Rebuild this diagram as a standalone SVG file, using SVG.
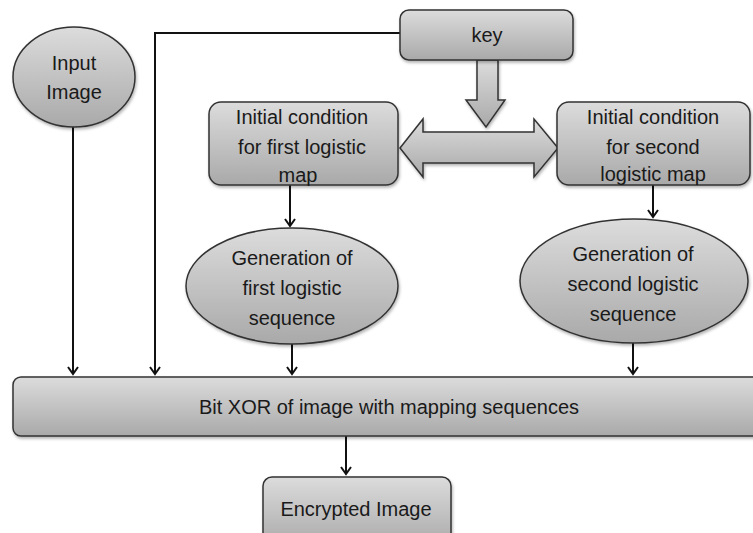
<svg xmlns="http://www.w3.org/2000/svg" width="753" height="533" viewBox="0 0 753 533">
<style>
.node{fill:url(#g);stroke:#333;stroke-width:1.5;filter:url(#sh)}
.t{font-family:"Liberation Sans",Arial,sans-serif;font-size:20px;fill:#1a1a1a;text-anchor:middle}
.c{fill:none;stroke:#111;stroke-width:2}
</style>
<defs>
<linearGradient id="g" x1="0" y1="0" x2="0" y2="1">
<stop offset="0" stop-color="#dcdcdc"/>
<stop offset="1" stop-color="#a9a9a9"/>
</linearGradient>
<filter id="sh" x="-10%" y="-10%" width="120%" height="130%">
<feDropShadow dx="1" dy="2" stdDeviation="1.5" flood-opacity="0.3"/>
</filter>
<marker id="ah" markerWidth="12" markerHeight="12" refX="9" refY="6" orient="auto" markerUnits="userSpaceOnUse">
<path d="M2,1 L9,6 L2,11" fill="none" stroke="#111" stroke-width="2"/>
</marker>
</defs>
<rect width="753" height="533" fill="#fff"/>
<g id="connectors">
<path class="c" d="M73,127 V374" marker-end="url(#ah)"/>
<path class="c" d="M400,33 H155 V374" marker-end="url(#ah)"/>
<path class="c" d="M290,185 V226" marker-end="url(#ah)"/>
<path class="c" d="M653,185 V217" marker-end="url(#ah)"/>
<path class="c" d="M292,344 V374" marker-end="url(#ah)"/>
<path class="c" d="M633,343 V374" marker-end="url(#ah)"/>
<path class="c" d="M346,436 V474" marker-end="url(#ah)"/>
<polygon class="node" points="477,60 498,60 498,100 505,100 486,127 466,100 477,100"/>
<polygon class="node" points="400,148 423,119 423,132 534,132 534,119 558,148 534,177 534,163 423,163 423,177"/>
</g>
<g id="input">
<ellipse class="node" cx="74" cy="77" rx="61" ry="50"/>
<text class="t" x="74" y="70">Input</text>
<text class="t" x="74" y="99">Image</text>
</g>
<g id="key">
<rect class="node" x="400" y="10" width="173" height="50" rx="9"/>
<text class="t" x="487" y="42">key</text>
</g>
<g id="init1">
<rect class="node" x="209" y="102" width="189" height="83" rx="12"/>
<text class="t" x="302" y="124">Initial condition</text>
<text class="t" x="302" y="154">for first logistic</text>
<text class="t" x="298" y="182">map</text>
</g>
<g id="init2">
<rect class="node" x="557" y="102" width="193" height="83" rx="12"/>
<text class="t" x="653" y="124">Initial condition</text>
<text class="t" x="653" y="154">for second</text>
<text class="t" x="653" y="181">logistic map</text>
</g>
<g id="gen1">
<ellipse class="node" cx="292" cy="286" rx="106" ry="58"/>
<text class="t" x="292" y="265">Generation of</text>
<text class="t" x="292" y="295">first logistic</text>
<text class="t" x="292" y="325">sequence</text>
</g>
<g id="gen2">
<ellipse class="node" cx="634" cy="281" rx="114" ry="62"/>
<text class="t" x="633" y="261">Generation of</text>
<text class="t" x="633" y="291">second logistic</text>
<text class="t" x="633" y="321">sequence</text>
</g>
<g id="xor">
<rect class="node" x="13" y="377" width="760" height="59" rx="8"/>
<text class="t" x="389" y="414">Bit XOR of image with mapping sequences</text>
</g>
<g id="encrypted">
<rect class="node" x="263" y="477" width="188" height="70" rx="9"/>
<text class="t" x="356" y="516">Encrypted Image</text>
</g>
</svg>
